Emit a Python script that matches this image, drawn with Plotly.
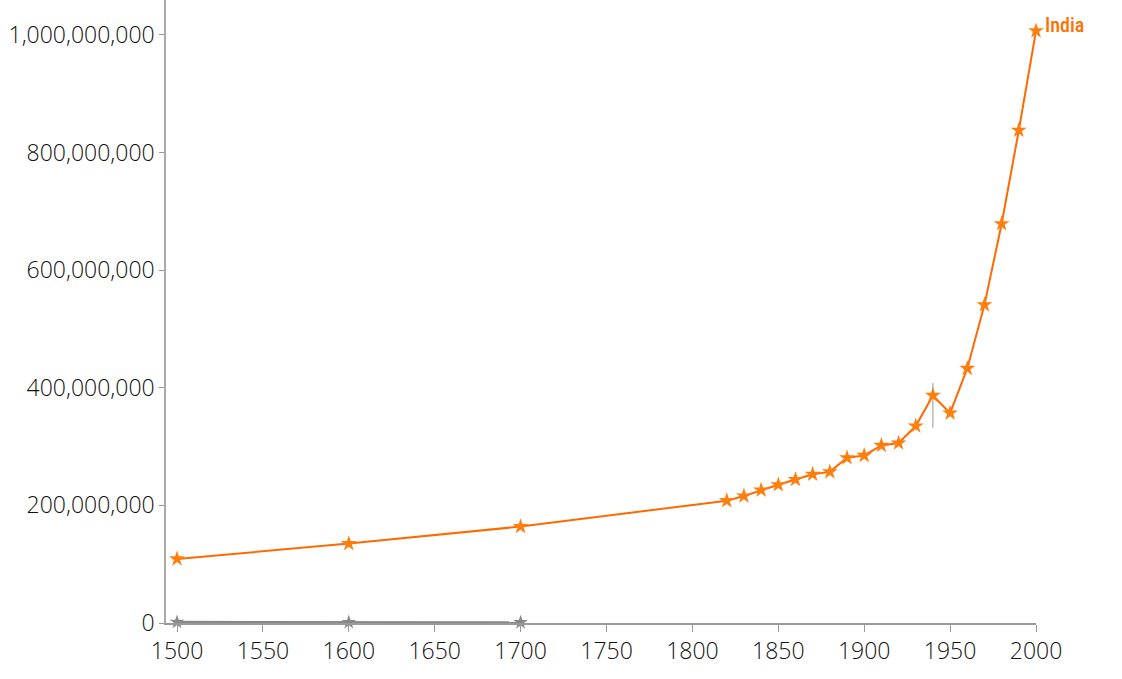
import plotly.graph_objects as go

years = [1500, 1600, 1700, 1820, 1830, 1840, 1850, 1860, 1870, 1880, 1890,
         1900, 1910, 1920, 1930, 1940, 1950, 1960, 1970, 1980, 1990, 2000]
india = [109e6, 135e6, 164e6, 208e6, 216e6, 226e6, 235e6, 244e6, 253e6, 257e6, 281e6,
         285e6, 302e6, 306e6, 335e6, 387e6, 357e6, 433e6, 541e6, 679e6, 838e6, 1007e6]
err_plus = [0]*15 + [21e6] + [0]*6
err_minus = [0]*15 + [55e6] + [0]*6

grey_years = [1500, 1600, 1700]
grey_vals = [1.5e6, 1.2e6, 1.0e6]

y_ticks = [0, 200e6, 400e6, 600e6, 800e6, 1000e6]
x_ticks = [1500, 1550, 1600, 1650, 1700, 1750, 1800, 1850, 1900, 1950, 2000]

fig = go.Figure()
fig.add_trace(go.Scatter(
    x=grey_years, y=grey_vals, mode="lines+markers",
    line=dict(color="#888888", width=2.5),
    marker=dict(symbol="star", size=11, color="#888888"),
    cliponaxis=False, showlegend=False))
fig.add_trace(go.Scatter(
    x=years, y=india, mode="lines+markers",
    line=dict(color="#ff6a00", width=2),
    marker=dict(symbol="star", size=12, color="#ff7f0e"),
    error_y=dict(type="data", symmetric=False, array=err_plus, arrayminus=err_minus,
                 color="#999999", thickness=1, width=0),
    cliponaxis=False, showlegend=False))

fig.add_annotation(x=years[-1], y=india[-1], text="India", showarrow=False,
                   xanchor="left", yanchor="middle", xshift=7, yshift=6,
                   font=dict(family="Roboto Condensed, Liberation Sans Narrow, Roboto, sans-serif",
                             size=20, color="#ff7000", weight=500))

fig.update_layout(
    width=1122, height=679,
    margin=dict(l=166, r=86, t=0, b=56),
    plot_bgcolor="white", paper_bgcolor="white",
    font=dict(family="Open Sans, sans-serif", size=23, color="#111111", weight=300),
    xaxis=dict(range=[1493.6, 2000], tickvals=x_ticks, showgrid=False, zeroline=False,
               showline=True, linecolor="#999999", linewidth=1.5,
               ticks="outside", ticklen=7, tickcolor="#999999"),
    yaxis=dict(range=[0, 1.0595e9], tickvals=y_ticks, tickformat=",", showgrid=False,
               zeroline=False, showline=True, linecolor="#aaaaaa", linewidth=1.5,
               ticks="outside", ticklen=5, tickcolor="#999999"),
)
fig.write_html("out.html", config={"displayModeBar": False},
               post_script="document.body.style.margin='0';document.body.style.padding='0';")
